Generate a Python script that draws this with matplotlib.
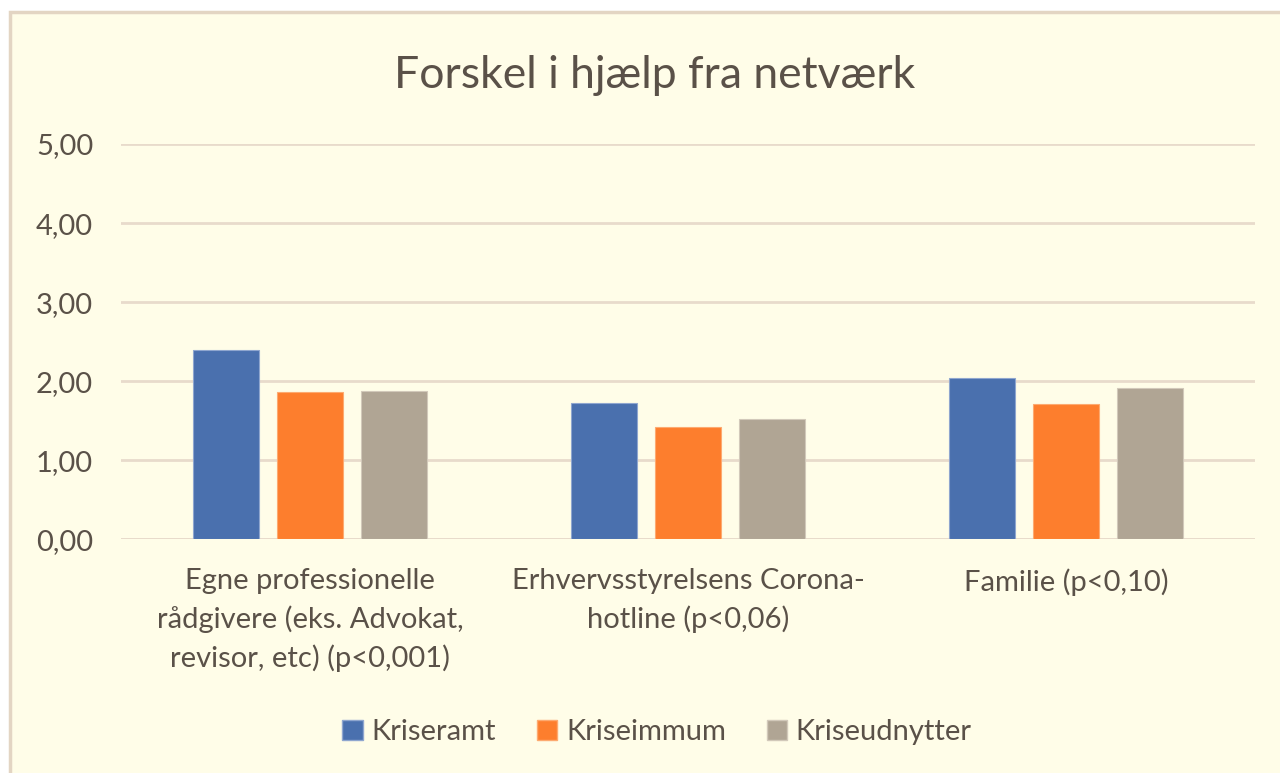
import matplotlib
matplotlib.use("Agg")
import numpy as np
import matplotlib.pyplot as plt
from matplotlib.patches import Rectangle, Patch

categories = [
    "Egne professionelle\nrådgivere (eks. Advokat,\nrevisor, etc) (p<0,001)",
    "Erhvervsstyrelsens Corona-\nhotline (p<0,06)",
    "Familie (p<0,10)",
]
series = ["Kriseramt", "Kriseimmum", "Kriseudnytter"]
kriseramt = [2.40, 1.73, 2.04]
kriseimmum = [1.86, 1.42, 1.71]
kriseudnytter = [1.88, 1.52, 1.92]
yticks = [0, 1, 2, 3, 4, 5]

colors = ["#4A70AE", "#FD7E2D", "#B0A594"]
edges = ["#8FA6CF", "#FDAA70", "#D2C9BA"]
bg = "#FFFDE8"
grid_c = "#E8DBCB"
text_c = "#5A5148"

plt.rcParams["font.family"] = ["Lato", "DejaVu Sans"]

fig = plt.figure(figsize=(12.8, 7.73), dpi=100)
fig.patch.set_facecolor("white")
# chart area frame
fig.patches.append(Rectangle((10 / 1280, -0.05), 1.1, (773 - 12) / 773 + 0.05,
                             transform=fig.transFigure, facecolor=bg,
                             edgecolor="#E3D5C3", linewidth=2.5, zorder=-10))

ax = fig.add_axes([121 / 1280, 233.7 / 773, (1255 - 121) / 1280, (629 - 233.7) / 773])
ax.set_facecolor("none")

x = np.arange(len(categories))
w = 0.1746
step = 0.222
for i, vals in enumerate([kriseramt, kriseimmum, kriseudnytter]):
    ax.bar(x + (i - 1) * step, vals, width=w, color=colors[i],
           edgecolor=edges[i], linewidth=0.8, zorder=3, label=series[i])

ax.set_xlim(-0.5, len(categories) - 0.5)
ax.set_ylim(0, 5)
ax.set_yticks(yticks)
ax.set_yticklabels([f"{v:.2f}".replace(".", ",") for v in yticks])
ax.yaxis.grid(True, color=grid_c, linewidth=2, zorder=0)
ax.set_axisbelow(True)
for s in ["top", "right", "left", "bottom"]:
    ax.spines[s].set_visible(False)
ax.axhline(0, color=grid_c, linewidth=2, zorder=1)

ax.set_xticks(x)
ax.set_xticklabels(categories, linespacing=1.5)
ax.tick_params(axis="x", length=0, pad=21, labelsize=21, labelcolor=text_c)
ax.tick_params(axis="y", length=0, pad=20, labelsize=21, labelcolor=text_c)

fig.text(655 / 1280, (773 - 76) / 773, "Forskel i hjælp fra netværk",
         ha="center", va="center", fontsize=32, color=text_c)

handles = [Patch(facecolor=colors[i], edgecolor=edges[i], label=series[i])
           for i in range(3)]
fig.legend(handles=handles, loc="center", bbox_to_anchor=(657 / 1280, 41 / 773),
           ncol=3, frameon=False, fontsize=21, labelcolor=text_c,
           handlelength=0.7, handleheight=0.7, handletextpad=0.3, columnspacing=1.4)

fig.savefig("out.png", dpi=100, facecolor=fig.get_facecolor())
